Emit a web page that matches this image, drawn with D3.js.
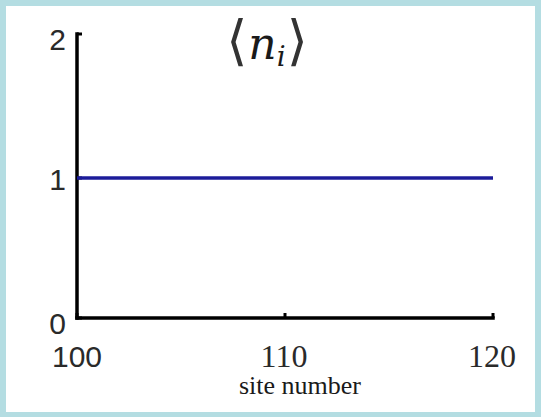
<!DOCTYPE html>
<html>
<head>
<meta charset="utf-8">
<script src="https://cdn.jsdelivr.net/npm/d3@7"></script>
<style>
  html, body { margin: 0; padding: 0; background: #b4dde2; }
  svg { display: block; }
</style>
</head>
<body>
<svg id="chart" width="541" height="417"></svg>
<script>
// Mean site occupation <n_i> over sites 100..120
const sites = [100, 101, 102, 103, 104, 105, 106, 107, 108, 109, 110,
               111, 112, 113, 114, 115, 116, 117, 118, 119, 120];
const occupation = [1, 1, 1, 1, 1, 1, 1, 1, 1, 1, 1,
                    1, 1, 1, 1, 1, 1, 1, 1, 1, 1];
const xTicks = [100, 110, 120];
const yTicks = [0, 1, 2];
const xLabel = "site number";

const svg = d3.select("#chart");

// page frame: pale blue border around a white panel
svg.append("rect").attr("x", 0).attr("y", 0).attr("width", 541).attr("height", 417)
  .attr("fill", "#b4dde2");
svg.append("rect").attr("x", 6).attr("y", 6).attr("width", 529).attr("height", 406)
  .attr("fill", "#ffffff");

const x = d3.scaleLinear().domain([100, 120]).range([77, 493]);
const y = d3.scaleLinear().domain([0, 2]).range([318, 38]);

// axes: thick black lines with short inward ticks
const g = svg.append("g");
g.append("line")
  .attr("x1", x(100)).attr("x2", x(120))
  .attr("y1", y(0)).attr("y2", y(0))
  .attr("stroke", "#000").attr("stroke-width", 3.5).attr("stroke-linecap", "square");
g.append("line")
  .attr("x1", x(100)).attr("x2", x(100))
  .attr("y1", y(0)).attr("y2", y(2) - 4)
  .attr("stroke", "#000").attr("stroke-width", 3.5).attr("stroke-linecap", "square");

g.selectAll(".xt").data(xTicks).join("line")
  .attr("x1", d => x(d)).attr("x2", d => x(d))
  .attr("y1", y(0)).attr("y2", y(0) - 5)
  .attr("stroke", "#000").attr("stroke-width", 3);
g.selectAll(".yt").data(yTicks).join("line")
  .attr("x1", x(100)).attr("x2", x(100) + 5)
  .attr("y1", d => y(d) - (d === 2 ? 4 : 0)).attr("y2", d => y(d) - (d === 2 ? 4 : 0))
  .attr("stroke", "#000").attr("stroke-width", 3);

// y tick labels
svg.selectAll(".ylab").data(yTicks).join("text")
  .attr("x", 66).attr("y", d => y(d) + (d === 0 ? 16 : 12))
  .attr("text-anchor", "end")
  .attr("font-family", "Liberation Sans, Arial, sans-serif")
  .attr("font-size", 30)
  .attr("fill", "#2a2a2a")
  .text(d => d);

// x tick labels
svg.selectAll(".xlab").data(xTicks).join("text")
  .attr("x", d => x(d) + (d === 100 ? 0 : -1))
  .attr("y", 367)
  .attr("text-anchor", "middle")
  .attr("font-family", d => d === 100 ? "Liberation Sans, Arial, sans-serif" : "Liberation Serif, Times New Roman, serif")
  .attr("font-size", d => d === 100 ? 30 : 32)
  .attr("fill", "#2a2a2a")
  .text(d => d);

svg.append("text")
  .attr("x", 300).attr("y", 394)
  .attr("text-anchor", "middle")
  .attr("font-family", "Liberation Serif, Times New Roman, serif")
  .attr("font-size", 26)
  .attr("fill", "#1a1a1a")
  .text(xLabel);

// title: <n_i>
const title = svg.append("text")
  .attr("x", 267).attr("y", 59)
  .attr("text-anchor", "middle")
  .attr("font-family", "DejaVu Sans, sans-serif")
  .attr("fill", "#333");
title.append("tspan").attr("font-size", 54).text("\u27E8");
title.append("tspan").attr("font-size", 44).attr("font-style", "italic")
  .attr("font-family", "DejaVu Serif, serif").attr("fill", "#1a1a1a").attr("dx", 1).text("n");
title.append("tspan").attr("font-size", 28).attr("font-style", "italic")
  .attr("font-family", "DejaVu Serif, serif").attr("fill", "#1a1a1a").attr("dy", 7).text("i");
title.append("tspan").attr("font-size", 54).attr("dy", -7).attr("dx", 1).text("\u27E9");

// occupation line
const line = d3.line().x(d => x(d[0])).y(d => y(d[1]));
svg.append("path")
  .datum(sites.map((s, i) => [s, occupation[i]]))
  .attr("d", line)
  .attr("fill", "none")
  .attr("stroke", "#1c1c9a")
  .attr("stroke-width", 3.5);
</script>
</body>
</html>
